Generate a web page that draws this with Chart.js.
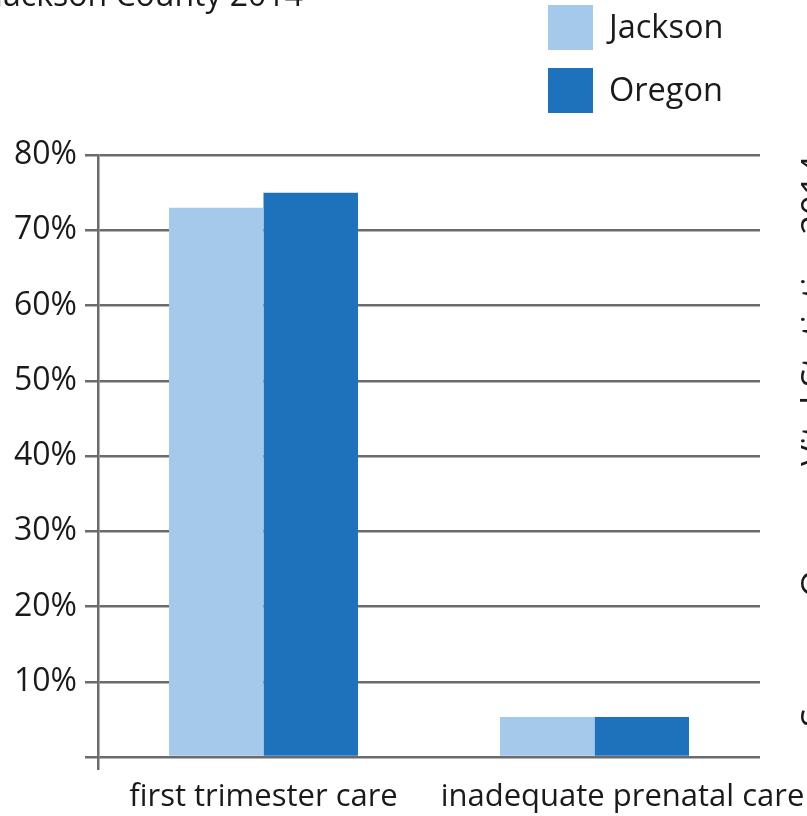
<!DOCTYPE html>
<html>
<head>
<meta charset="utf-8">
<script src="https://cdn.jsdelivr.net/npm/chart.js@4/dist/chart.umd.min.js"></script>
<style>
  html, body { margin: 0; padding: 0; background: #fff; }
  .wrap { width: 807px; height: 816px; }
</style>
</head>
<body>
<div class="wrap"><canvas id="careChart" width="807" height="816"></canvas></div>
<script>
// chart values
const categories = ['first trimester care', 'inadequate prenatal care'];
const seriesNames = ['Jackson', 'Oregon'];
const jacksonValues = [73, 5.3];
const oregonValues = [75, 5.3];
const yTicks = [10, 20, 30, 40, 50, 60, 70, 80];
const titleText = 'Jackson County 2014';
const sourceText = 'Source: Oregon Vital Statistics 2014';

const FONT = '"Open Sans", "Noto Sans", sans-serif';
const TEXT = '#1a1a1a';
const GRID = '#6b6b6b';
const colors = ['#a4c9eb', '#1e72bb'];
const labelShift = [0, 28]; // second label sits right of its bars

// title, legend, side note and x labels drawn by hand
const extras = {
  id: 'extras',
  afterDraw(chart) {
    const c = chart.ctx;
    const xs = chart.scales.x;
    c.save();
    c.fillStyle = TEXT;
    c.font = '32px ' + FONT;

    // title, mostly cut off at the top
    c.textAlign = 'right';
    c.textBaseline = 'alphabetic';
    c.fillText(titleText, 303, 6);

    // legend
    c.font = '32.5px ' + FONT;
    c.textAlign = 'left';
    c.textBaseline = 'middle';
    chart.data.datasets.forEach((ds, i) => {
      const y = 5 + i * 63;
      c.fillStyle = ds.backgroundColor;
      c.fillRect(548, y, 45, 45);
      c.fillStyle = TEXT;
      c.fillText(ds.label, 609, y + 24);
    });

    // category labels
    c.font = '31px ' + FONT;
    c.textAlign = 'center';
    c.textBaseline = 'alphabetic';
    categories.forEach((lab, i) => {
      c.fillText(lab, xs.getPixelForValue(i) + labelShift[i], 806);
    });

    // rotated source note, only the tops of the tall letters show
    c.font = '32px ' + FONT;
    const size = 32 * 572 / c.measureText(sourceText).width;
    c.font = size.toFixed(1) + 'px ' + FONT;
    c.translate(826, 727);
    c.rotate(-Math.PI / 2);
    c.textAlign = 'left';
    c.fillText(sourceText, 0, 0);
    c.restore();
  }
};

new Chart(document.getElementById('careChart'), {
  type: 'bar',
  data: {
    labels: categories,
    datasets: [
      { label: seriesNames[0], data: jacksonValues, backgroundColor: colors[0] },
      { label: seriesNames[1], data: oregonValues, backgroundColor: colors[1] },
    ],
  },
  options: {
    responsive: false,
    animation: false,
    layout: { padding: { top: 155, right: 47, left: 0, bottom: 0 } },
    datasets: {
      bar: { categoryPercentage: 0.571, barPercentage: 1, borderWidth: 0 },
    },
    plugins: {
      legend: { display: false },
      tooltip: { enabled: false },
    },
    scales: {
      x: {
        offset: true,
        afterFit: (s) => { s.height = 59; },
        border: { display: false },
        grid: {
          offset: true,
          drawOnChartArea: false,
          tickLength: 13,
          lineWidth: 2.5,
          color: (ctx) => (ctx.index === 0 ? GRID : 'transparent'),
        },
        ticks: { display: false },
      },
      y: {
        min: 0,
        max: 80,
        afterFit: (s) => { s.width = 98; },
        afterBuildTicks: (s) => { s.ticks = [0].concat(yTicks).map((v) => ({ value: v })); },
        border: { display: true, color: GRID, width: 2.5 },
        grid: { color: GRID, lineWidth: 2.5, tickLength: 13 },
        ticks: {
          padding: 8,
          color: TEXT,
          font: { family: FONT, size: 32 },
          callback: (v) => (v === 0 ? '' : v + '%'),
        },
      },
    },
  },
  plugins: [extras],
});
</script>
</body>
</html>
